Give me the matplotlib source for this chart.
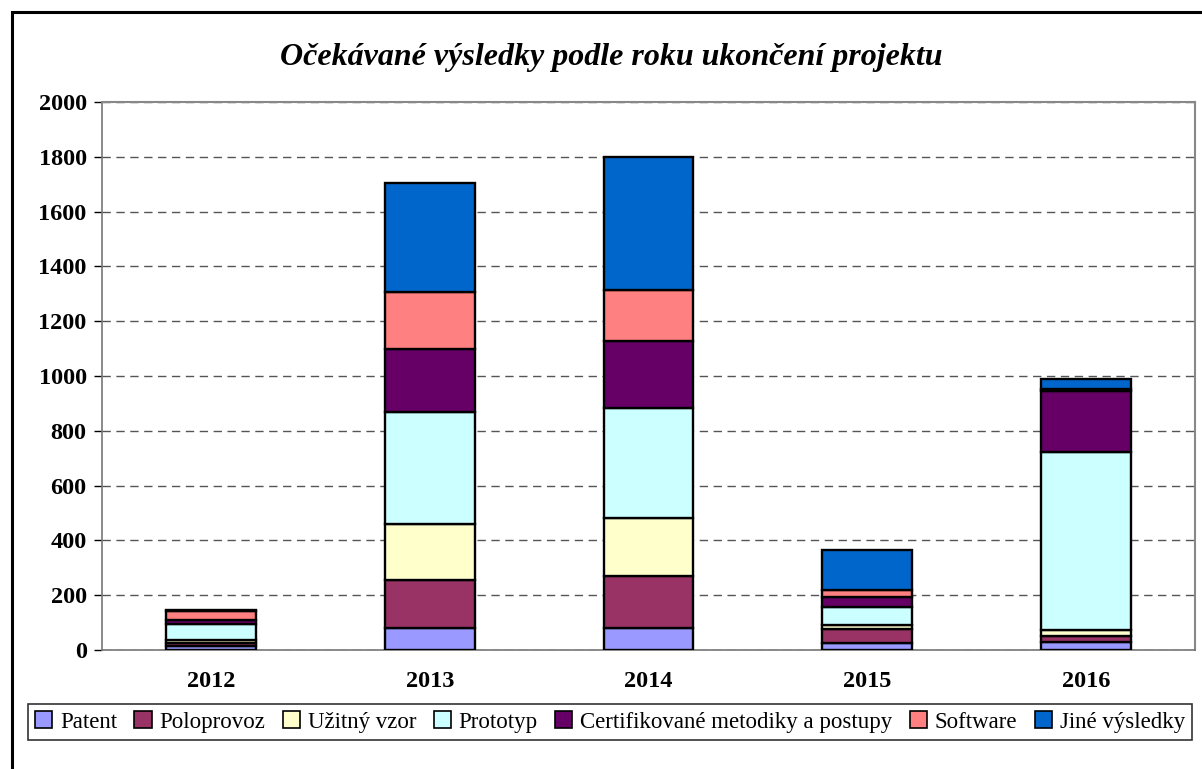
import numpy as np
import matplotlib
matplotlib.use('Agg')
import matplotlib.pyplot as plt
from matplotlib.patches import Rectangle

plt.rcParams['font.family'] = ['Liberation Serif', 'DejaVu Serif']

# data
years = ['2012', '2013', '2014', '2015', '2016']
series_names = ['Patent', 'Poloprovoz', 'Užitný vzor', 'Prototyp',
                'Certifikované metodiky a postupy', 'Software', 'Jiné výsledky']
patent     = [13, 80, 80, 24, 28]
poloprovoz = [12, 175, 190, 51, 22]
uzitny     = [12, 205, 212, 16, 23]
prototyp   = [58, 409, 401, 66, 649]
certif     = [16, 230, 245, 36, 223]
software   = [32, 208, 186, 27, 8]
jine       = [3, 397, 486, 146, 36]
colors = ['#9999FF', '#993366', '#FFFFCC', '#CCFFFF', '#660066', '#FF8080', '#0066CC']

series = [patent, poloprovoz, uzitny, prototyp, certif, software, jine]

fig = plt.figure(figsize=(12.02, 7.69), dpi=100)
W, H = 1202, 769
ax = fig.add_axes([102 / W, 1 - 650 / H, (1195 - 102) / W, (650 - 102) / H])

x = np.arange(len(years))
bottom = np.zeros(len(years))
handles = []
for name, vals, c in zip(series_names, series, colors):
    b = ax.bar(x, vals, 0.41, bottom=bottom, color=c, edgecolor='black',
               linewidth=1.7, label=name, zorder=3)
    handles.append(b)
    bottom += np.array(vals)

ax.set_xlim(-0.5, len(years) - 0.5)
ax.set_ylim(0, 2000)
ax.set_yticks(np.arange(0, 2001, 200))
ax.set_xticks(x)
ax.set_xticklabels(years)
ax.tick_params(axis='y', length=6, width=1, labelsize=17.5, pad=5)
ax.tick_params(axis='x', length=0, labelsize=17.5, pad=15)
for lab in ax.get_xticklabels() + ax.get_yticklabels():
    lab.set_fontweight('bold')
ax.grid(axis='y', linestyle=(0, (6, 4)), color='#555555', linewidth=1, zorder=0)
for s in ['top', 'right']:
    ax.spines[s].set_color('#888888')
    ax.spines[s].set_linewidth(1.5)
for s in ['left', 'bottom']:
    ax.spines[s].set_color('#777777')
    ax.spines[s].set_linewidth(1.2)

fig.text(611 / W, 1 - 58 / H, 'Očekávané výsledky podle roku ukončení projektu',
         ha='center', va='center', fontsize=23, fontweight='bold', fontstyle='italic')

# outer chart frame
fig.patches.append(Rectangle((12 / W, -0.05), 1.05, 1 - 12 / H + 0.05,
                             transform=fig.transFigure, fill=False,
                             edgecolor='black', linewidth=2.2, zorder=0))

leg = fig.legend(handles=handles, labels=series_names, ncol=7,
                 loc='center', bbox_to_anchor=(610 / W, 1 - 722 / H),
                 fontsize=16.5, frameon=True, fancybox=False, edgecolor='black',
                 handlelength=0.75, handleheight=0.75, handletextpad=0.35,
                 columnspacing=0.75, borderpad=0.3, borderaxespad=0)
leg.get_frame().set_linewidth(1.2)
for h in leg.legend_handles:
    h.set_linewidth(1.2)

fig.savefig('out.png', dpi=100)
